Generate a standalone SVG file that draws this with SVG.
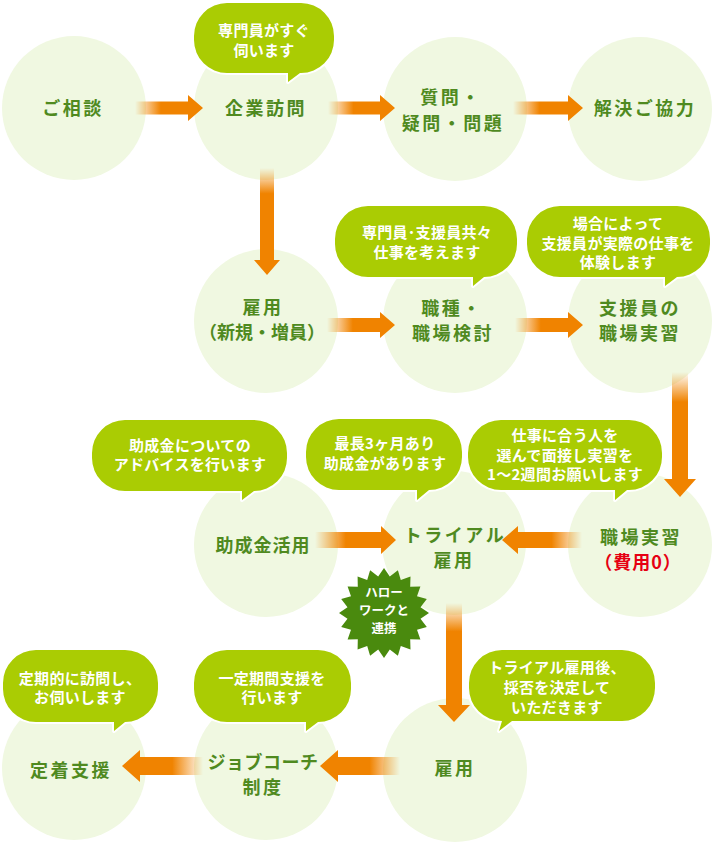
<svg xmlns="http://www.w3.org/2000/svg" width="712" height="843" viewBox="0 0 712 843">
<defs>
<style>
.c{fill:#f0f8e1}
.t{font-family:"Noto Sans CJK JP","Noto Sans",sans-serif;font-weight:700;font-size:18px;fill:#4f8a1f;text-anchor:middle;letter-spacing:2.5px}
.b{fill:#aacc03;stroke:#fff;stroke-width:4;paint-order:stroke;stroke-linejoin:round}
.bt{font-family:"Noto Sans CJK JP","Noto Sans",sans-serif;font-weight:700;font-size:15px;fill:#fff;text-anchor:middle;letter-spacing:0.3px}
.st{font-family:"Noto Sans CJK JP","Noto Sans",sans-serif;font-weight:700;font-size:12.5px;fill:#fff;text-anchor:middle}
.red{fill:#e60012}
</style>
<linearGradient id="gR" x1="0" y1="0" x2="1" y2="0"><stop offset="0" stop-color="#f08300" stop-opacity="0"/><stop offset="0.38" stop-color="#f08300"/></linearGradient>
<linearGradient id="gL" x1="1" y1="0" x2="0" y2="0"><stop offset="0" stop-color="#f08300" stop-opacity="0"/><stop offset="0.38" stop-color="#f08300"/></linearGradient>
<linearGradient id="gD" x1="0" y1="0" x2="0" y2="1"><stop offset="0" stop-color="#f08300" stop-opacity="0"/><stop offset="0.24" stop-color="#f08300"/></linearGradient>
</defs>

<g id="n-soudan"><circle class="c" cx="74" cy="108" r="72"/><text class="t" x="73" y="115">ご相談</text></g>
<g id="n-kigyou"><circle class="c" cx="266" cy="108" r="72"/><text class="t" x="266" y="115">企業訪問</text></g>
<g id="n-shitsumon"><circle class="c" cx="455" cy="109" r="72"/><text class="t" x="451" y="104">質問・</text><text class="t" x="453" y="130">疑問・問題</text></g>
<g id="n-kaiketsu"><circle class="c" cx="640" cy="109" r="72"/><text class="t" x="645" y="115">解決ご協力</text></g>

<g id="n-koyou1"><circle class="c" cx="266" cy="321" r="72"/><text class="t" x="263" y="314">雇用</text><text class="t" x="262" y="339" style="letter-spacing:0">（新規・増員）</text></g>
<g id="n-shokushu"><circle class="c" cx="455" cy="321" r="72"/><text class="t" x="452" y="315">職種・</text><text class="t" x="453" y="340">職場検討</text></g>
<g id="n-shienin"><circle class="c" cx="640" cy="321" r="72"/><text class="t" x="640" y="315">支援員の</text><text class="t" x="640" y="340">職場実習</text></g>

<g id="n-joseikin"><circle class="c" cx="266" cy="545" r="72"/><text class="t" x="263" y="552" style="letter-spacing:1px">助成金活用</text></g>
<g id="n-trial"><circle class="c" cx="454" cy="543" r="72"/><text class="t" x="455" y="542">トライアル</text><text class="t" x="454" y="567">雇用</text></g>
<g id="n-jisshu"><circle class="c" cx="640" cy="545" r="72"/><text class="t" x="641" y="544">職場実習</text><text class="t red" x="638" y="569" style="letter-spacing:1px">（費用0）</text></g>

<g id="n-teichaku"><circle class="c" cx="74" cy="768" r="72"/><text class="t" x="71" y="777">定着支援</text></g>
<g id="n-jobcoach"><circle class="c" cx="266" cy="768" r="72"/><text class="t" x="263" y="769" style="letter-spacing:0.5px">ジョブコーチ</text><text class="t" x="263" y="794">制度</text></g>
<g id="n-koyou2"><circle class="c" cx="455" cy="770" r="72"/><text class="t" x="455" y="775">雇用</text></g>

<g id="connectors">
<path fill="url(#gR)" d="M135,101.5 H188 V95 L203,108 L188,121 V114.5 H135 Z"/>
<path fill="url(#gR)" d="M328,101.5 H380 V95 L395,108 L380,121 V114.5 H328 Z"/>
<path fill="url(#gR)" d="M513,101.5 H568 V95 L583,108 L568,121 V114.5 H513 Z"/>
<path fill="url(#gD)" d="M260,168 V260 H254 L267,275 L280,260 H274 V168 Z"/>
<path fill="url(#gR)" d="M327,318 H380 V312 L395,325 L380,338 V332 H327 Z"/>
<path fill="url(#gR)" d="M515,318 H568 V312 L583,325 L568,338 V332 H515 Z"/>
<path fill="url(#gD)" d="M672,372 V479 H664 L680,497 L696,479 H688 V372 Z"/>
<path fill="url(#gR)" d="M315,532 H381 V526 L396,540 L381,554 V548 H315 Z"/>
<path fill="url(#gL)" d="M582,532 H518 V526 L502,540 L518,554 V548 H582 Z"/>
<path fill="url(#gD)" d="M446,603 V705 H438 L454,722 L470,705 H462 V603 Z"/>
<path fill="url(#gL)" d="M400,757 H338 V750 L320,766 L338,782 V775 H400 Z"/>
<path fill="url(#gL)" d="M203,757 H140 V750 L122,766 L140,782 V775 H203 Z"/>
</g>

<g id="bubble1"><path class="b" d="M227,3 H301 A33,33 0 0 1 334,36 V40 A33,33 0 0 1 301,73 H300 L288,82 V73 H227 A33,33 0 0 1 194,40 V36 A33,33 0 0 1 227,3 Z"/><text class="bt" x="264" y="36">専門員がすぐ</text><text class="bt" x="264" y="56">伺います</text></g>
<g id="bubble2"><path class="b" d="M368,206 H484 A33,33 0 0 1 517,239 V244 A33,33 0 0 1 484,277 L473,286 V277 H368 A33,33 0 0 1 335,244 V239 A33,33 0 0 1 368,206 Z"/><text class="bt" x="427" y="238">専門員･支援員共々</text><text class="bt" x="427" y="258">仕事を考えます</text></g>
<g id="bubble3"><path class="b" d="M560,206 H677 A33,33 0 0 1 710,239 V244 A33,33 0 0 1 677,277 L665,286 V277 H560 A33,33 0 0 1 527,244 V239 A33,33 0 0 1 560,206 Z"/><text class="bt" x="618" y="229">場合によって</text><text class="bt" x="618" y="249">支援員が実際の仕事を</text><text class="bt" x="618" y="268">体験します</text></g>
<g id="bubble4"><path class="b" d="M125,420 H254 A33,33 0 0 1 287,453 V458 A33,33 0 0 1 254,491 L242,500 V491 H125 A33,33 0 0 1 92,458 V453 A33,33 0 0 1 125,420 Z"/><text class="bt" x="190" y="451">助成金についての</text><text class="bt" x="190" y="470">アドバイスを行います</text></g>
<g id="bubble5"><path class="b" d="M339,419 H429 A33,33 0 0 1 462,452 V457 A33,33 0 0 1 429,490 L417,500 V490 H339 A33,33 0 0 1 306,457 V452 A33,33 0 0 1 339,419 Z"/><text class="bt" x="385" y="449">最長3ヶ月あり</text><text class="bt" x="385" y="469">助成金があります</text></g>
<g id="bubble6"><path class="b" d="M501,420 H629 A33,33 0 0 1 662,453 V457 A33,33 0 0 1 629,490 H627 L615,500 V490 H501 A33,33 0 0 1 468,457 V453 A33,33 0 0 1 501,420 Z"/><text class="bt" x="565" y="441">仕事に合う人を</text><text class="bt" x="565" y="461">選んで面接し実習を</text><text class="bt" x="565" y="480">1〜2週間お願いします</text></g>
<g id="bubble7"><path class="b" d="M502,650 H622 A33,33 0 0 1 655,683 V688 A33,33 0 0 1 622,721 H512 L499,731 L502,721 A33,33 0 0 1 469,688 V683 A33,33 0 0 1 502,650 Z"/><text class="bt" x="557" y="673">トライアル雇用後、</text><text class="bt" x="557" y="693">採否を決定して</text><text class="bt" x="557" y="713">いただきます</text></g>
<g id="bubble8"><path class="b" d="M36,650 H125 A33,33 0 0 1 158,683 V689 A33,33 0 0 1 125,722 L114,731 V722 H36 A33,33 0 0 1 3,689 V683 A33,33 0 0 1 36,650 Z"/><text class="bt" x="80" y="684">定期的に訪問し、</text><text class="bt" x="80" y="703">お伺いします</text></g>
<g id="bubble9"><path class="b" d="M227,650 H318 A33,33 0 0 1 351,683 V689 A33,33 0 0 1 318,722 L306,731 V722 H227 A33,33 0 0 1 194,689 V683 A33,33 0 0 1 227,650 Z"/><text class="bt" x="272" y="684">一定期間支援を</text><text class="bt" x="272" y="703">行います</text></g>

<g id="burst">
<polygon fill="#4a8a0e" points="384,568 389.8,576.5 397.9,570.2 400.8,580 410.5,576.6 410.2,586.8 420.4,586.6 417,596.2 426.8,599.1 420.5,607.2 429,613 420.5,618.8 426.8,626.9 417,629.8 420.4,639.5 410.2,639.2 410.5,649.4 400.8,646 397.9,655.8 389.8,649.5 384,658 378.2,649.5 370.1,655.8 367.2,646 357.6,649.4 357.8,639.2 347.6,639.5 351,629.8 341.2,626.9 347.5,618.8 339,613 347.5,607.2 341.2,599.1 351,596.2 347.6,586.6 357.8,586.8 357.6,576.6 367.2,580 370.1,570.2 378.2,576.5"/>
<text class="st" x="384" y="597">ハロー</text>
<text class="st" x="384" y="615">ワークと</text>
<text class="st" x="384" y="633">連携</text>
</g>
</svg>
